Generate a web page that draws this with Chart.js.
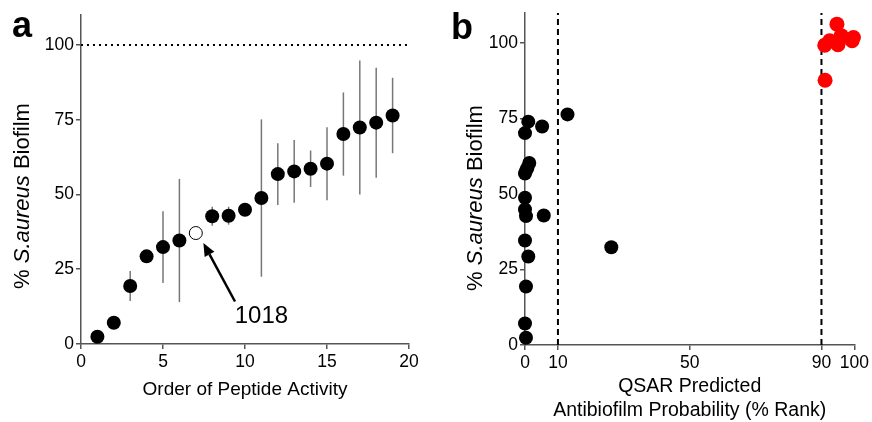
<!DOCTYPE html>
<html>
<head>
<meta charset="utf-8">
<script src="https://cdn.jsdelivr.net/npm/chart.js@4.4.1/dist/chart.umd.min.js"></script>
<style>
  html, body { margin: 0; padding: 0; background: #fff; }
  #wrap { position: relative; width: 872px; height: 422px; }
  #wrap canvas { position: absolute; top: 0; }
</style>
</head>
<body>
<div id="wrap">
  <canvas id="chartA" width="436" height="422" style="left:0"></canvas>
  <canvas id="chartB" width="436" height="422" style="left:436px"></canvas>
</div>
<script>
// panel a: biofilm left after treatment, peptides sorted by activity
var order = [1, 2, 3, 4, 5, 6, 7, 8, 9, 10, 11, 12, 13, 14, 15, 16, 17, 18, 19];
var biofilm = [2.4, 7.1, 19.4, 29.3, 32.4, 34.6, 37.1, 42.7, 42.9, 44.9, 48.8, 56.8, 57.7, 58.6, 60.3, 70.2, 72.4, 74.0, 76.4];
var biofilmErr = [0, 0, 5.0, 0, 12.0, 20.6, 0, 3.2, 3.0, 1.5, 26.3, 10.3, 10.5, 6.1, 12.2, 13.9, 22.4, 18.4, 12.6];
var highlightIndex = 6;           // peptide 1018, open circle
var highlightName = '1018';
var controlLevel = 100;
var xTicksA = [0, 5, 10, 15, 20];
var yTicks = [0, 25, 50, 75, 100];

// arrow for the 1018 note, in data units of panel a
var arrowTip = [7.46, 33.8];
var arrowTail = [9.39, 14.2];
var noteAt = [11.0, 9.4];

// panel b: QSAR rank vs biofilm
var qsarBlack = [0.3, 0, 0.3, 1.0, 26.2, 0, 0.3, 5.7, 0, 0, 0, 0.3, 0.7, 1.3, 0, 5.2, 1.0, 12.9];
var biofilmBlack = [2.4, 7.1, 19.4, 29.3, 32.4, 34.6, 42.7, 42.9, 44.9, 48.8, 56.8, 57.7, 58.6, 60.3, 70.2, 72.4, 74.0, 76.4];
var qsarRed = [91.1, 91.0, 92.5, 94.7, 95.0, 96.0, 99.7, 99.3];
var biofilmRed = [87.7, 99.3, 100.8, 106.3, 99.5, 102.5, 101.9, 100.8];
var cutoffs = [10, 90];
var xTicksB = [0, 10, 50, 90, 100];

var FONT = "'Liberation Sans', Arial, sans-serif";
Chart.defaults.font.family = FONT;
Chart.defaults.color = '#000';

function pts(xs, ys) {
    return xs.map(function (x, i) { return { x: x, y: ys[i] }; });
}

// italic species name in the y title
function yTitle(cx, cy) {
    return {
        id: 'yTitle',
        afterDraw: function (chart) {
            var ctx = chart.ctx;
            var parts = [['% ', 'normal'], ['S.aureus', 'italic'], [' Biofilm', 'normal']];
            ctx.save();
            ctx.translate(cx, cy);
            ctx.rotate(-Math.PI / 2);
            ctx.fillStyle = '#000';
            ctx.textBaseline = 'middle';
            ctx.textAlign = 'left';
            var total = 0;
            parts.forEach(function (p) {
                ctx.font = p[1] + ' 22px ' + FONT;
                total += ctx.measureText(p[0]).width;
            });
            var x = -total / 2;
            parts.forEach(function (p) {
                ctx.font = p[1] + ' 22px ' + FONT;
                ctx.fillText(p[0], x, 0);
                x += ctx.measureText(p[0]).width;
            });
            ctx.restore();
        }
    };
}

function panelLabel(txt, x, y) {
    return {
        id: 'panelLabel',
        afterDraw: function (chart) {
            var ctx = chart.ctx;
            ctx.save();
            ctx.font = 'bold 36px ' + FONT;
            ctx.fillStyle = '#000';
            ctx.textBaseline = 'alphabetic';
            ctx.fillText(txt, x, y);
            ctx.restore();
        }
    };
}

var errorBars = {
    id: 'errorBars',
    beforeDatasetsDraw: function (chart) {
        var ctx = chart.ctx, xs = chart.scales.x, ys = chart.scales.y;
        ctx.save();
        ctx.strokeStyle = '#777';
        ctx.lineWidth = 1.5;
        order.forEach(function (o, i) {
            if (!biofilmErr[i]) return;
            var px = xs.getPixelForValue(o);
            ctx.beginPath();
            ctx.moveTo(px, ys.getPixelForValue(biofilm[i] - biofilmErr[i]));
            ctx.lineTo(px, ys.getPixelForValue(biofilm[i] + biofilmErr[i]));
            ctx.stroke();
        });
        ctx.restore();
    }
};

var noteArrow = {
    id: 'noteArrow',
    afterDatasetsDraw: function (chart) {
        var ctx = chart.ctx, xs = chart.scales.x, ys = chart.scales.y;
        var tx = xs.getPixelForValue(arrowTip[0]), ty = ys.getPixelForValue(arrowTip[1]);
        var sx = xs.getPixelForValue(arrowTail[0]), sy = ys.getPixelForValue(arrowTail[1]);
        var ang = Math.atan2(ty - sy, tx - sx);
        var head = 13, half = 5.5;
        var bx = tx - head * Math.cos(ang), by = ty - head * Math.sin(ang);
        ctx.save();
        ctx.strokeStyle = '#000';
        ctx.fillStyle = '#000';
        ctx.lineWidth = 2.5;
        ctx.beginPath();
        ctx.moveTo(sx, sy);
        ctx.lineTo(bx, by);
        ctx.stroke();
        ctx.beginPath();
        ctx.moveTo(tx, ty);
        ctx.lineTo(bx + half * Math.sin(ang), by - half * Math.cos(ang));
        ctx.lineTo(bx - half * Math.sin(ang), by + half * Math.cos(ang));
        ctx.closePath();
        ctx.fill();
        ctx.font = '24px ' + FONT;
        ctx.textAlign = 'center';
        ctx.textBaseline = 'middle';
        ctx.fillText(highlightName, xs.getPixelForValue(noteAt[0]), ys.getPixelForValue(noteAt[1]));
        ctx.restore();
    }
};

function axisX(min, max, tickList, title, height, titleSize, titlePad) {
    return {
        type: 'linear', min: min, max: max,
        afterBuildTicks: function (s) { s.ticks = tickList.map(function (v) { return { value: v }; }); },
        afterFit: function (s) { s.height = height; },
        grid: { drawOnChartArea: false, drawTicks: true, tickLength: 5, color: '#555', lineWidth: 1.5 },
        border: { color: '#555', width: 1.5 },
        ticks: { font: { size: 17.5 }, color: '#000', padding: 3, maxRotation: 0, autoSkip: false },
        title: { display: true, text: title, font: { size: titleSize, lineHeight: 1.2 }, color: '#000', padding: { top: 0, bottom: titlePad } }
    };
}

function axisY(width) {
    return {
        type: 'linear', min: 0, max: 110,
        afterBuildTicks: function (s) { s.ticks = yTicks.map(function (v) { return { value: v }; }); },
        afterFit: function (s) { s.width = width; },
        grid: { drawOnChartArea: false, drawTicks: true, tickLength: 5, color: '#555', lineWidth: 1.5 },
        border: { color: '#555', width: 1.5 },
        ticks: { font: { size: 17.5 }, color: '#000', padding: 2 }
    };
}

var filled = pts(order, biofilm).filter(function (p, i) { return i !== highlightIndex; });

new Chart(document.getElementById('chartA'), {
    type: 'scatter',
    data: {
        datasets: [
            { data: [{ x: order[highlightIndex], y: biofilm[highlightIndex] }], pointRadius: 6.5, pointHoverRadius: 6.5,
              backgroundColor: '#fff', borderColor: '#000', borderWidth: 1, clip: false },
            { data: filled, pointRadius: 7, pointHoverRadius: 7, backgroundColor: '#000', borderColor: '#000', borderWidth: 0, clip: false },
            { data: [{ x: 0, y: controlLevel }, { x: 20, y: controlLevel }], showLine: true, pointRadius: 0,
              borderColor: '#000', borderWidth: 2, borderDash: [2, 4], clip: false }
        ]
    },
    options: {
        responsive: false,
        animation: false,
        events: [],
        layout: { padding: { left: 0, right: 27, top: 15, bottom: 0 } },
        plugins: { legend: { display: false }, tooltip: { enabled: false } },
        scales: {
            x: axisX(0, 20, xTicksA, 'Order of Peptide Activity', 78, 19, 21),
            y: axisY(81)
        }
    },
    plugins: [errorBars, noteArrow, yTitle(23, 196), panelLabel('a', 12, 37)]
});

var cutoffSets = cutoffs.map(function (c) {
    return { data: [{ x: c, y: 0 }, { x: c, y: 110 }], showLine: true, pointRadius: 0,
             borderColor: '#000', borderWidth: 2, borderDash: [6, 4], clip: false };
});

new Chart(document.getElementById('chartB'), {
    type: 'scatter',
    data: {
        datasets: [
            { data: pts(qsarRed, biofilmRed), pointRadius: 7.5, pointHoverRadius: 7.5, backgroundColor: '#ff0000', borderWidth: 0, clip: false },
            { data: pts(qsarBlack, biofilmBlack), pointRadius: 7, pointHoverRadius: 7, backgroundColor: '#000', borderWidth: 0, clip: false }
        ].concat(cutoffSets)
    },
    options: {
        responsive: false,
        animation: false,
        events: [],
        layout: { padding: { left: 0, right: 16, top: 13, bottom: 0 } },
        plugins: { legend: { display: false }, tooltip: { enabled: false } },
        scales: {
            x: axisX(0, 100, xTicksB, ['QSAR Predicted', 'Antibiofilm Probability (% Rank)'], 77, 19.5, 0),
            y: axisY(89)
        }
    },
    plugins: [yTitle(40, 198), panelLabel('b', 15, 39)]
});
</script>
</body>
</html>
